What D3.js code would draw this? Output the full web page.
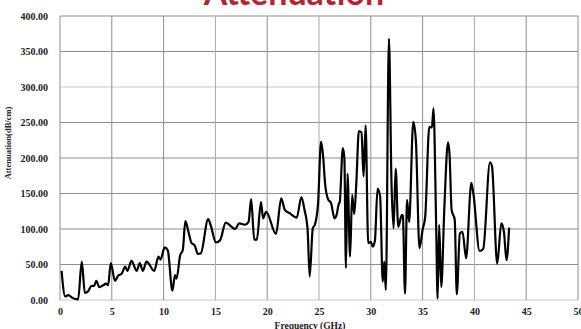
<!DOCTYPE html>
<html>
<head>
<meta charset="utf-8">
<script src="https://cdn.jsdelivr.net/npm/d3@7"></script>
<style>
  body { margin: 0; background: #fff; }
  svg { display: block; }
  .tick text { font-family: "Liberation Serif", "Times New Roman", serif; font-weight: bold; }
</style>
</head>
<body>
<svg id="chart" width="581" height="329"></svg>
<script>
// frequency (GHz) and attenuation (dB/cm)
var freq = [0.15, 0.5, 0.8, 1.2, 1.75, 2.1, 2.4, 2.7, 3.05, 3.3, 3.5, 3.8, 4.2, 4.45, 4.65, 4.9,
    5.3, 5.6, 5.95, 6.3, 6.5, 6.9, 7.4, 7.7, 8.0, 8.35, 9.1, 9.5, 9.7, 10.1, 10.4, 10.85,
    11.1, 11.25, 11.6, 11.85, 12.1, 12.4, 12.7, 13.0, 13.3, 13.6, 14.3, 14.55, 15.05, 15.45,
    16.0, 16.9, 17.3, 17.85, 18.2, 18.45, 18.75, 19.0, 19.4, 19.6, 19.9, 20.85, 21.35, 21.7,
    22.2, 22.85, 23.3, 23.6, 23.9, 24.1, 24.4, 24.6, 24.9, 25.2, 25.4, 25.6, 25.9, 26.15,
    26.5, 26.7, 26.9, 27.0, 27.3, 27.45, 27.6, 27.75, 28.0, 28.2, 28.4, 28.6, 28.85, 29.1,
    29.3, 29.5, 29.75, 30.0, 30.2, 30.4, 30.65, 30.9, 31.15, 31.3, 31.45, 31.75, 32.0, 32.2,
    32.4, 32.65, 33.0, 33.1, 33.3, 33.5, 33.7, 34.1, 34.35, 34.7, 35.0, 35.25, 35.65, 35.9,
    36.05, 36.3, 36.45, 36.6, 36.8, 37.1, 37.45, 37.6, 37.8, 38.1, 38.3, 38.6, 38.85, 39.2,
    39.7, 39.9, 40.5, 40.85, 41.5, 41.7, 42.2, 42.6, 42.85, 43.1, 43.35];
var atten = [41, 5, 7, 3, 1, 54, 10, 12, 20, 20, 27, 18, 21, 23, 21, 52,
    27, 34, 37, 47, 41, 55, 41, 52, 41, 54, 41, 61, 57, 74, 70, 13,
    35, 30, 63, 70, 111, 96, 80, 77, 65, 66, 114, 105, 81, 84,
    109, 100, 108, 106, 110, 142, 85, 85, 138, 115, 124, 93, 143, 127,
    122, 116, 145, 127, 99, 33, 101, 106, 134, 223, 202, 162, 141, 137,
    115, 120, 135, 138, 214, 200, 45, 178, 61, 148, 121, 164, 238, 236,
    174, 246, 80, 82, 75, 84, 157, 146, 26, 54, 14, 368, 164, 101,
    185, 103, 120, 118, 9, 141, 110, 251, 225, 73, 99, 117, 244, 243,
    270, 113, 2, 106, 18, 130, 222, 205, 127, 113, 8, 94, 96, 59,
    165, 150, 69, 72, 194, 188, 51, 108, 96, 56, 102];
var xTicks = [0, 5, 10, 15, 20, 25, 30, 35, 40, 45, 50];
var yTicks = [0, 50, 100, 150, 200, 250, 300, 350, 400];

var svg = d3.select("#chart");
var x = d3.scaleLinear().domain([0, 50]).range([60, 578]);
var y = d3.scaleLinear().domain([0, 400]).range([300, 16]);

// grid
svg.append("g")
    .selectAll("line")
    .data(yTicks)
    .enter().append("line")
    .attr("x1", x(0)).attr("x2", x(50))
    .attr("y1", function (d) { return y(d); })
    .attr("y2", function (d) { return y(d); })
    .attr("stroke", function (d) { return d == 0 || d == 300 ? "#c8c8c8" : "#8e8e8e"; })
    .attr("stroke-width", 1);

svg.append("g")
    .selectAll("line")
    .data(xTicks)
    .enter().append("line")
    .attr("y1", y(0)).attr("y2", y(400))
    .attr("x1", function (d) { return x(d); })
    .attr("x2", function (d) { return x(d); })
    .attr("stroke", function (d) { return d == 15 || d == 25 || d == 40 ? "#a8a8a8" : "#8e8e8e"; })
    .attr("stroke-width", 1);

// axes (labels only)
var yAxis = svg.append("g")
    .attr("transform", "translate(" + 48 + ",0)")
    .call(d3.axisLeft(y).tickValues(yTicks).tickSize(0).tickPadding(0).tickFormat(d3.format(".2f")));
yAxis.select(".domain").remove();
yAxis.selectAll("text").attr("font-size", 10).attr("fill", "#222");

var xAxis = svg.append("g")
    .attr("transform", "translate(0," + 308 + ")")
    .call(d3.axisBottom(x).tickValues(xTicks).tickSize(0).tickPadding(0));
xAxis.select(".domain").remove();
xAxis.selectAll("text").attr("font-size", 10).attr("fill", "#222");

// curve
var line = d3.line()
    .x(function (d, i) { return x(freq[i]); })
    .y(function (d) { return y(d); })
    .curve(d3.curveMonotoneX);

svg.append("path")
    .datum(atten)
    .attr("fill", "none")
    .attr("stroke", "#000")
    .attr("stroke-width", 2.2)
    .attr("stroke-linejoin", "round")
    .attr("d", line);

// titles
svg.append("text")
    .attr("x", 294).attr("y", 5)
    .attr("text-anchor", "middle")
    .attr("font-family", "Lato, 'Open Sans', sans-serif")
    .attr("font-weight", "bold")
    .attr("font-size", 34)
    .attr("fill", "#b3262f")
    .text("Attenuation");

svg.append("text")
    .attr("transform", "translate(11,143)rotate(-90)")
    .attr("text-anchor", "middle")
    .attr("font-family", "'Liberation Serif', serif")
    .attr("font-weight", "bold")
    .attr("font-size", 8.5)
    .attr("fill", "#222")
    .text("Attenuation(dB/cm)");

svg.append("text")
    .attr("x", 310).attr("y", 328.5)
    .attr("text-anchor", "middle")
    .attr("font-family", "'Liberation Serif', serif")
    .attr("font-weight", "bold")
    .attr("font-size", 9.5)
    .attr("fill", "#222")
    .text("Frequency (GHz)");
</script>
</body>
</html>
